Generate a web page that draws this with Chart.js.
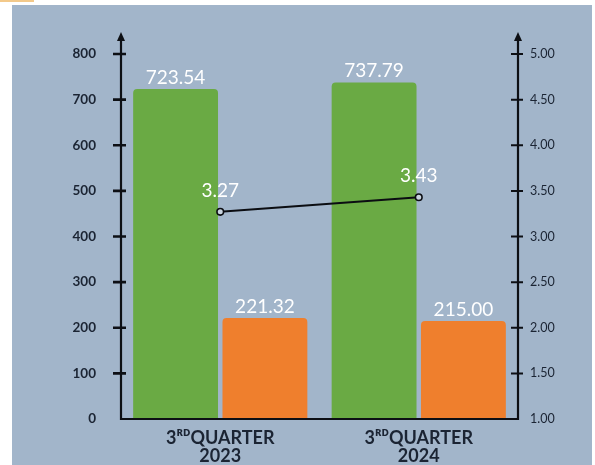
<!DOCTYPE html>
<html>
<head>
<meta charset="utf-8">
<style>
  html, body { margin: 0; padding: 0; background: #ffffff; }
  #wrap { width: 595px; height: 465px; }
</style>
<script src="https://cdn.jsdelivr.net/npm/chart.js@4.4.1/dist/chart.umd.min.js"></script>
</head>
<body>
<div id="wrap"><canvas id="c" width="595" height="465"></canvas></div>
<script>
// ---- data ----
const categories = [['3\u1D3F\u1D30QUARTER', '2023'], ['3\u1D3F\u1D30QUARTER', '2024']];
const greenValues = [723.54, 737.79];
const orangeValues = [221.32, 215.00];
const lineValues = [3.27, 3.43];
const leftTicks = [0, 100, 200, 300, 400, 500, 600, 700, 800];
const rightTicks = [1.00, 1.50, 2.00, 2.50, 3.00, 3.50, 4.00, 4.50, 5.00];

const PANEL = '#a2b5ca';
const GREEN = '#6aaa44';
const ORANGE = '#ef7f2d';
const INK = '#1b2433';

const backgroundPlugin = {
  id: 'panelBg',
  beforeDraw(chart) {
    const ctx = chart.ctx;
    ctx.save();
    ctx.fillStyle = '#ffffff';
    ctx.fillRect(0, 0, chart.width, chart.height);
    ctx.fillStyle = '#f3c98a';
    ctx.fillRect(0, 0, 34, 2);
    ctx.fillStyle = PANEL;
    ctx.fillRect(12, 5, 580, chart.height - 5);
    ctx.restore();
  }
};

const valueLabelPlugin = {
  id: 'valueLabels',
  afterDatasetsDraw(chart) {
    const ctx = chart.ctx;
    ctx.save();
    ctx.fillStyle = '#ffffff';
    ctx.font = '19px Lato, "Open Sans", sans-serif';
    ctx.textAlign = 'center';
    ctx.textBaseline = 'alphabetic';
    chart.data.datasets.forEach((ds, di) => {
      const meta = chart.getDatasetMeta(di);
      meta.data.forEach((el, i) => {
        const v = ds.data[i];
        const off = ds.type === 'line' ? 15 : 5;
        ctx.fillText(v.toFixed(2), el.x, el.y - off);
      });
    });
    ctx.restore();
  }
};

const axisPlugin = {
  id: 'axesDraw',
  afterDraw(chart) {
    const ctx = chart.ctx;
    const a = chart.chartArea;
    const yl = chart.scales.y, yr = chart.scales.y1;
    ctx.save();
    ctx.strokeStyle = '#0d0f14';
    ctx.fillStyle = '#0d0f14';
    ctx.lineWidth = 2.2;
    // left axis
    ctx.beginPath();
    ctx.moveTo(a.left, a.bottom + 1);
    ctx.lineTo(a.left, 38);
    ctx.moveTo(a.right, a.bottom + 1);
    ctx.lineTo(a.right, 38);
    ctx.moveTo(a.left - 1, a.bottom);
    ctx.lineTo(a.right + 1, a.bottom);
    ctx.stroke();
    // arrows
    [a.left, a.right].forEach(x => {
      ctx.beginPath();
      ctx.moveTo(x, 32);
      ctx.lineTo(x - 4, 41);
      ctx.lineTo(x + 4, 41);
      ctx.closePath();
      ctx.fill();
    });
    // tick marks
    ctx.lineWidth = 2.6;
    ctx.beginPath();
    yl.ticks.forEach(t => {
      if (t.value === 0) return;
      const py = yl.getPixelForValue(t.value);
      ctx.moveTo(a.left - 8, py);
      ctx.lineTo(a.left + 5, py);
    });
    ctx.stroke();
    ctx.lineWidth = 2;
    ctx.beginPath();
    yr.ticks.forEach(t => {
      if (t.value === 1) return;
      const py = yr.getPixelForValue(t.value);
      ctx.moveTo(a.right - 7, py);
      ctx.lineTo(a.right + 5, py);
    });
    ctx.stroke();
    ctx.restore();
  }
};

new Chart(document.getElementById('c'), {
  data: {
    labels: categories,
    datasets: [
      {
        type: 'line',
        data: lineValues,
        yAxisID: 'y1',
        borderColor: '#0b0d12',
        borderWidth: 2,
        pointRadius: 3.3,
        pointBorderWidth: 1.6,
        pointBackgroundColor: '#c9d4df',
        pointBorderColor: '#0b0d12',
        order: 0
      },
      {
        type: 'bar',
        data: greenValues,
        yAxisID: 'y',
        backgroundColor: GREEN,
        borderRadius: { topLeft: 4, topRight: 4 },
        borderSkipped: 'bottom',
        categoryPercentage: 0.9,
        barPercentage: 0.95,
        order: 1
      },
      {
        type: 'bar',
        data: orangeValues,
        yAxisID: 'y',
        backgroundColor: ORANGE,
        borderRadius: { topLeft: 4, topRight: 4 },
        borderSkipped: 'bottom',
        categoryPercentage: 0.9,
        barPercentage: 0.95,
        order: 1
      }
    ]
  },
  options: {
    responsive: false,
    animation: false,
    devicePixelRatio: 1,
    layout: { padding: { top: 54, left: 0, right: 0, bottom: 0 } },
    plugins: { legend: { display: false }, tooltip: { enabled: false } },
    scales: {
      x: {
        grid: { display: false, drawTicks: false },
        border: { display: false },
        ticks: {
          color: INK,
          font: { family: 'Lato, "Open Sans", sans-serif', size: 18, weight: 'bold', lineHeight: 1.0 },
          padding: 10,
          maxRotation: 0
        },
        afterFit(s) { s.height = 46; }
      },
      y: {
        position: 'left',
        min: 0, max: 800,
        afterBuildTicks(s) { s.ticks = leftTicks.map(v => ({ value: v })); },
        grid: { display: false, drawTicks: false },
        border: { display: false },
        ticks: {
          color: INK,
          font: { family: 'Lato, "Open Sans", sans-serif', size: 13.5, weight: 'bold' },
          padding: 25
        },
        afterFit(s) { s.width = 121; }
      },
      y1: {
        position: 'right',
        min: 1, max: 5,
        afterBuildTicks(s) { s.ticks = rightTicks.map(v => ({ value: v })); },
        grid: { display: false, drawTicks: false },
        border: { display: false },
        ticks: {
          color: INK,
          font: { family: 'Lato, "Open Sans", sans-serif', size: 12.5 },
          padding: 12,
          callback: v => Number(v).toFixed(2)
        },
        afterFit(s) { s.width = 77; }
      }
    }
  },
  plugins: [backgroundPlugin, valueLabelPlugin, axisPlugin]
});
</script>
</body>
</html>
